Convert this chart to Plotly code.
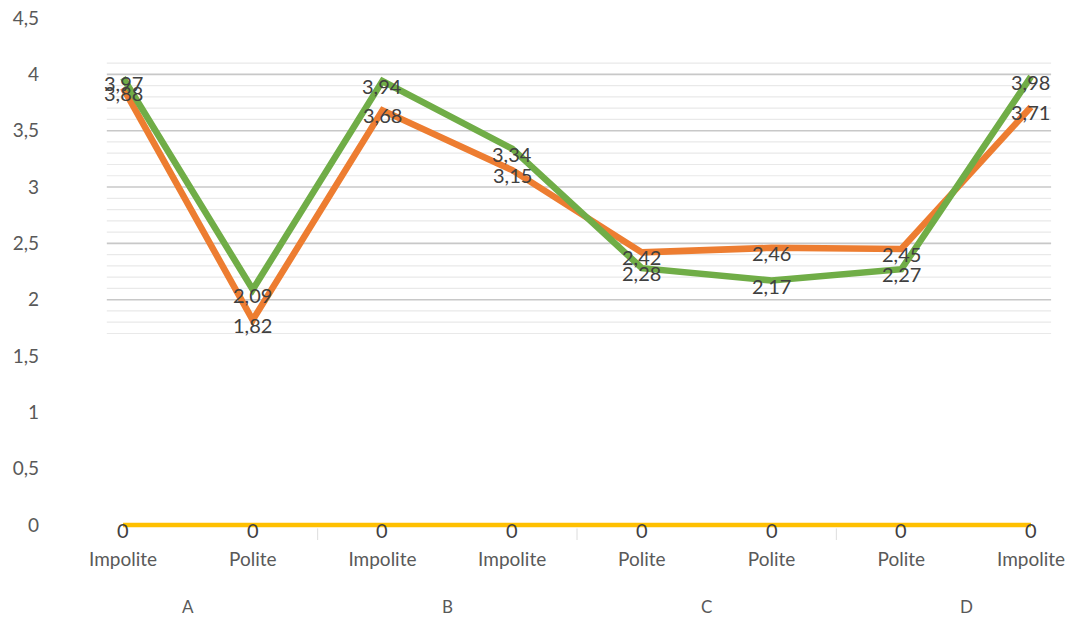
import plotly.graph_objects as go

# Category axis: response type per item, grouped in pairs A-D
categories = ["Impolite", "Polite", "Impolite", "Impolite", "Polite", "Polite", "Polite", "Impolite"]
groups = ["A", "B", "C", "D"]

# Series values
orange_vals = [3.88, 1.82, 3.68, 3.15, 2.42, 2.46, 2.45, 3.71]
green_vals = [3.97, 2.09, 3.94, 3.34, 2.28, 2.17, 2.27, 3.98]
yellow_vals = [0, 0, 0, 0, 0, 0, 0, 0]

# Y axis ticks (comma decimal separator)
y_ticks = [0, 0.5, 1, 1.5, 2, 2.5, 3, 3.5, 4, 4.5]
y_tick_text = ["0", "0,5", "1", "1,5", "2", "2,5", "3", "3,5", "4", "4,5"]

FONT = "Lato, Open Sans, sans-serif"
LABEL_COLOR = "#404040"
AXIS_COLOR = "#595959"


def fmt(v):
    return f"{v:g}".replace(".", ",")


x = list(range(len(categories)))

fig = go.Figure()

# light grid band behind the lines
shapes = []
band_x0, band_x1 = -0.125, 7.155
minor = [round(1.7 + 0.1 * k, 2) for k in range(25)]
for yv in minor:
    is_major = abs(yv * 2 - round(yv * 2)) < 1e-6
    shapes.append(dict(
        type="line", xref="x", yref="y", layer="below",
        x0=band_x0, x1=band_x1, y0=yv, y1=yv,
        line=dict(color="#c8c8c8" if is_major else "#e9e9e9", width=1.6 if is_major else 1.2),
    ))
# faint group dividers near the category axis
for xv in [1.5, 3.5, 5.5]:
    shapes.append(dict(
        type="line", xref="x", yref="y", layer="below",
        x0=xv, x1=xv, y0=-0.03, y1=-0.17,
        line=dict(color="#e2e2e2", width=1.2),
    ))

series = [
    (yellow_vals, "#FFC000", 4.5),
    (orange_vals, "#ED7D31", 6.5),
    (green_vals, "#70AD47", 6.5),
]
for vals, color, w in series:
    fig.add_trace(go.Scatter(
        x=x, y=vals, mode="lines",
        line=dict(color=color, width=w),
        hoverinfo="skip", showlegend=False,
    ))

annotations = []
for vals in [yellow_vals, orange_vals, green_vals]:
    for xi, v in zip(x, vals):
        annotations.append(dict(
            x=xi, y=v, xref="x", yref="y", text=fmt(v), showarrow=False,
            yshift=-5, font=dict(family=FONT, size=20, color=LABEL_COLOR),
        ))

# group labels under each pair of categories
for gi, g in enumerate(groups):
    annotations.append(dict(
        x=2 * gi + 0.5, y=-0.124, xref="x", yref="paper", yanchor="middle",
        text=g, showarrow=False,
        font=dict(family=FONT, size=17, color=AXIS_COLOR),
    ))

fig.update_layout(
    width=1076, height=619,
    margin=dict(l=50, r=0, t=0, b=79),
    paper_bgcolor="white", plot_bgcolor="white",
    shapes=shapes, annotations=annotations,
    xaxis=dict(
        range=[-0.563, 7.347], tickmode="array", tickvals=x, ticktext=categories,
        showgrid=False, zeroline=False, showline=False, ticks="",
        ticklabelstandoff=6,
        tickfont=dict(family=FONT, size=19, color=AXIS_COLOR),
    ),
    yaxis=dict(
        range=[-0.133, 4.66], tickmode="array", tickvals=y_ticks, ticktext=y_tick_text,
        showgrid=False, zeroline=False, showline=False, ticks="",
        ticklabelstandoff=10,
        tickfont=dict(family=FONT, size=19, color=AXIS_COLOR),
    ),
)

fig.write_html("out.html")
